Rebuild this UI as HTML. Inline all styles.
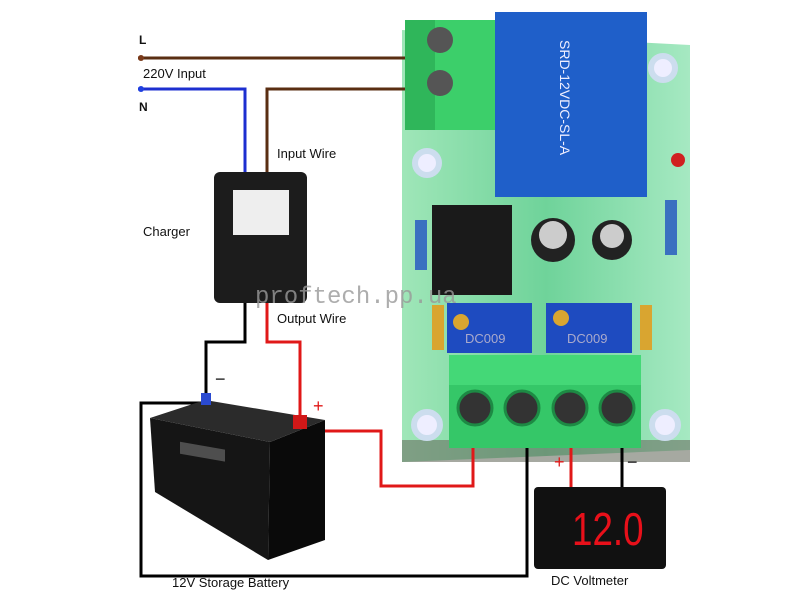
<!DOCTYPE html>
<html><head><style>
body{margin:0;width:800px;height:600px;background:#fff;overflow:hidden;position:relative;font-family:"Liberation Sans",sans-serif}
.t{position:absolute;font-size:13px;color:#111}
</style></head><body>
<svg width="800" height="600" style="position:absolute;left:0;top:0">
<defs>
<linearGradient id="pcb" x1="0" x2="1"><stop offset="0" stop-color="#9fe6b8"/><stop offset=".5" stop-color="#6fd39a"/><stop offset="1" stop-color="#a6e9c2"/></linearGradient>
</defs>
<!-- PCB -->
<path d="M402,30 L690,45 L690,450 L402,462 Z" fill="url(#pcb)"/>
<rect x="402" y="440" width="288" height="22" fill="#6b6f62" opacity=".6"/>
<g fill="#eef" stroke="#cde" stroke-width="6">
<circle cx="427" cy="163" r="12"/><circle cx="663" cy="68" r="12"/><circle cx="427" cy="425" r="13"/><circle cx="665" cy="425" r="13"/></g>
<rect x="405" y="20" width="93" height="110" fill="#3ccf6a"/>
<rect x="405" y="20" width="30" height="110" fill="#2fb65a"/>
<circle cx="440" cy="40" r="13" fill="#555"/><circle cx="440" cy="83" r="13" fill="#555"/>
<rect x="495" y="12" width="152" height="185" fill="#1f5fc9"/>
<text x="560" y="40" font-size="14" fill="#eef" transform="rotate(90 560 40)">SRD-12VDC-SL-A</text>
<rect x="432" y="205" width="80" height="90" fill="#1a1a1a"/>
<circle cx="553" cy="240" r="22" fill="#222"/><circle cx="553" cy="235" r="14" fill="#ccc"/>
<circle cx="612" cy="240" r="20" fill="#222"/><circle cx="612" cy="236" r="12" fill="#ccc"/>
<rect x="415" y="220" width="12" height="50" fill="#3a70c0"/>
<rect x="665" y="200" width="12" height="55" fill="#3a70c0"/>
<circle cx="678" cy="160" r="7" fill="#d02020"/>
<rect x="432" y="305" width="12" height="45" fill="#d9a530"/>
<rect x="640" y="305" width="12" height="45" fill="#d9a530"/>
<rect x="447" y="303" width="85" height="50" fill="#1e4bc0"/>
<rect x="546" y="303" width="86" height="50" fill="#1e4bc0"/>
<text x="465" y="343" font-size="13" fill="#aac">DC009</text>
<text x="567" y="343" font-size="13" fill="#aac">DC009</text>
<circle cx="461" cy="322" r="8" fill="#d9a530"/><circle cx="561" cy="318" r="8" fill="#d9a530"/>
<rect x="449" y="355" width="192" height="93" fill="#35c768"/>
<rect x="449" y="355" width="192" height="30" fill="#44d877"/>
<g fill="#333" stroke="#1d8a44" stroke-width="3">
<circle cx="475" cy="408" r="17"/><circle cx="522" cy="408" r="17"/><circle cx="570" cy="408" r="17"/><circle cx="617" cy="408" r="17"/></g>
<g fill="none" stroke-width="3">
<path d="M138,58 H405" stroke="#5a2e12"/>
<path d="M138,89 H245 V172" stroke="#1d2fd0"/>
<path d="M267,172 V89 H405" stroke="#5a2e12"/>
<path d="M245,303 V342 H206 V400" stroke="#000"/>
<path d="M267,303 V342 H300 V420" stroke="#e01818"/>
<path d="M318,431 H381 V486 H473 V448" stroke="#e01818"/>
<path d="M571,448 V497" stroke="#e01818"/>
<path d="M622,448 V497" stroke="#000"/>
<path d="M208,403 H141 V576 H527 V448" stroke="#000"/>
</g>
<circle cx="141" cy="58" r="3" fill="#7a3a1a"/><circle cx="141" cy="89" r="3" fill="#2040e0"/>
<rect x="214" y="172" width="93" height="131" rx="6" fill="#1c1c1c"/>
<rect x="233" y="190" width="56" height="45" fill="#eee"/>
<!-- battery -->
<path d="M150,418 L270,442 L268,560 L155,492 Z" fill="#151515"/>
<path d="M270,442 L325,420 L325,540 L268,560 Z" fill="#0a0a0a"/>
<path d="M150,418 L205,400 L325,420 L270,442 Z" fill="#2b2b2b"/>
<rect x="180" y="410" width="45" height="12" fill="#888" transform="skewY(10)" opacity=".5"/>
<rect x="201" y="393" width="10" height="12" fill="#2a4ad0"/>
<rect x="293" y="415" width="14" height="14" fill="#d01818"/>
<!-- voltmeter -->
<rect x="534" y="487" width="132" height="82" rx="4" fill="#111"/>
<text x="0" y="0" font-size="46" fill="#e8101a" transform="translate(572 545) scale(0.8 1)">12.0</text>
</svg>
<div class="t" style="left:139px;top:33px;font-weight:bold;font-size:12px">L</div>
<div class="t" style="left:143px;top:66px">220V Input</div>
<div class="t" style="left:139px;top:100px;font-weight:bold;font-size:12px">N</div>
<div class="t" style="left:277px;top:146px">Input Wire</div>
<div class="t" style="left:143px;top:224px">Charger</div>
<div class="t" style="left:277px;top:311px">Output Wire</div>
<div class="t" style="left:215px;top:369px;font-size:18px">−</div>
<div class="t" style="left:313px;top:396px;font-size:18px;color:#e01818">+</div>
<div class="t" style="left:554px;top:452px;font-size:18px;color:#e01818">+</div>
<div class="t" style="left:627px;top:452px;font-size:18px">−</div>
<div class="t" style="left:172px;top:575px">12V Storage Battery</div>
<div class="t" style="left:551px;top:573px">DC Voltmeter</div>
<div class="t" style="left:255px;top:284px;font-size:24px;color:#999;font-family:'Liberation Mono',monospace;opacity:.8">proftech.pp.ua</div>
</body></html>
